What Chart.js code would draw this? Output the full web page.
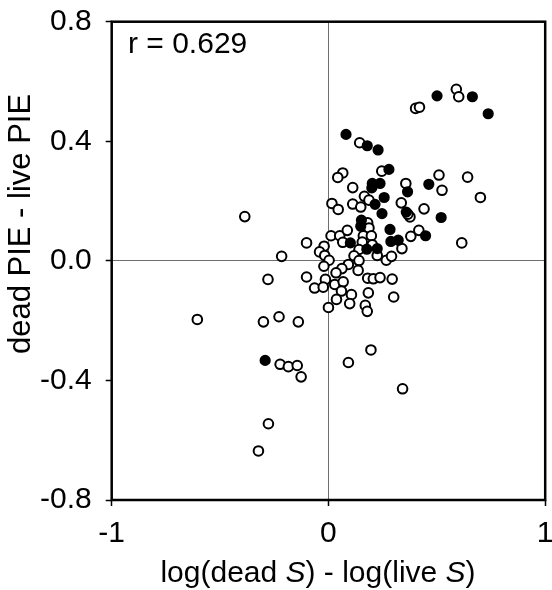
<!DOCTYPE html>
<html>
<head>
<meta charset="utf-8">
<script src="https://cdn.jsdelivr.net/npm/chart.js@4.4.1/dist/chart.umd.min.js"></script>
<style>
  html, body { margin: 0; padding: 0; background: #fff; }
  #wrap { width: 552px; height: 590px; }
</style>
</head>
<body>
<div id="wrap"><canvas id="chart" width="552" height="590"></canvas></div>
<script>
(function () {
    'use strict';

    // Filled circles.
    var filledX = [0.501, 0.664, 0.737, 0.081, 0.179, 0.229, 0.279, 0.238, 0.202, 0.200,
                   0.365, 0.463, 0.257, 0.215, 0.247, 0.359, 0.520, 0.152, 0.149, 0.284,
                   0.448, 0.288, 0.322, 0.101, 0.177, 0.225, -0.292];
    var filledY = [0.552, 0.549, 0.492, 0.423, 0.385, 0.371, 0.306, 0.259, 0.259, 0.244,
                   0.231, 0.256, 0.212, 0.189, 0.158, 0.163, 0.145, 0.136, 0.116, 0.105,
                   0.084, 0.065, 0.069, 0.060, 0.039, 0.041, -0.333];

    // Open circles.
    var openX = [0.590, 0.601, 0.402, 0.420, 0.144, 0.066, 0.043, 0.246, 0.357, 0.510,
                 0.524, 0.642, 0.701, -0.386, 0.112, 0.166, 0.016, 0.045, 0.112, 0.149,
                 0.336, 0.441, 0.376, 0.366, 0.012, 0.052, 0.087, 0.066, 0.181, 0.187,
                 0.161, 0.198, 0.156, 0.202, -0.101, -0.020, -0.041, -0.017, 0.003, -0.216,
                 0.141, 0.118, 0.141, 0.225, 0.267, 0.291, 0.339, 0.380, 0.417, 0.615,
                 0.092, 0.062, 0.035, -0.021, 0.137, -0.279, -0.101, -0.014, 0.029, 0.068,
                 -0.064, -0.024, 0.060, 0.181, 0.207, 0.238, 0.294, 0.184, 0.106, 0.037,
                 0.098, 0.301, 0.170, 0.179, 0.000, -0.605, -0.300, -0.228, -0.139, -0.223,
                 -0.185, -0.144, -0.126, 0.092, 0.196, 0.342, -0.277, -0.323, 0.187];
    var openY = [0.574, 0.549, 0.510, 0.514, 0.395, 0.294, 0.279, 0.300, 0.259, 0.287,
                 0.236, 0.280, 0.212, 0.148, 0.245, 0.216, 0.192, 0.172, 0.190, 0.180,
                 0.194, 0.174, 0.147, 0.156, 0.084, 0.084, 0.102, 0.062, 0.127, 0.110,
                 0.084, 0.084, 0.063, 0.054, 0.060, 0.049, 0.030, 0.018, 0.002, 0.015,
                 0.038, 0.017, 0.001, 0.018, 0.002, 0.015, 0.041, 0.082, 0.102, 0.060,
                 -0.012, -0.026, -0.040, -0.018, -0.032, -0.062, -0.054, -0.062, -0.079, -0.070,
                 -0.091, -0.088, -0.101, -0.058, -0.060, -0.056, -0.061, -0.107, -0.113, -0.129,
                 -0.143, -0.121, -0.149, -0.169, -0.156, -0.196, -0.204, -0.187, -0.204, -0.346,
                 -0.354, -0.350, -0.388, -0.340, -0.298, -0.428, -0.545, -0.636, 0.203];

    var xTicks = [-1, 0, 1];
    var yTicks = [-0.8, -0.4, 0.0, 0.4, 0.8];
    var corrLabel = 'r = 0.629';

    var FONT = "'Liberation Sans', Arial, sans-serif";

    function toPoints(xs, ys) {
        return xs.map(function (x, i) { return { x: x, y: ys[i] }; });
    }

    function zeroGrid(ctx) {
        return ctx.tick && ctx.tick.value === 0 ? '#6e6e6e' : 'rgba(0,0,0,0)';
    }

    // Frame, r label and axis titles.
    var decor = {
        id: 'decor',
        afterDatasetsDraw: function (chart) {
            var a = chart.chartArea;
            var c = chart.ctx;
            c.save();
            c.strokeStyle = '#000';
            c.lineWidth = 2.5;
            c.strokeRect(a.left, a.top, a.right - a.left, a.bottom - a.top);
            c.restore();
        },
        afterDraw: function (chart) {
            var c = chart.ctx;
            c.save();
            c.fillStyle = '#000';
            c.textBaseline = 'alphabetic';

            c.font = '30px ' + FONT;
            c.textAlign = 'left';
            c.fillText(corrLabel, 128, 53);

            // x title with italic S
            var parts = [
                ['log(dead ', false], ['S', true], [') - log(live ', false], ['S', true], [')', false]
            ];
            var total = 0;
            parts.forEach(function (p) {
                c.font = (p[1] ? 'italic ' : '') + '30px ' + FONT;
                total += c.measureText(p[0]).width;
            });
            var x = 318 - total / 2;
            parts.forEach(function (p) {
                c.font = (p[1] ? 'italic ' : '') + '30px ' + FONT;
                c.fillText(p[0], x, 582);
                x += c.measureText(p[0]).width;
            });

            // y title
            c.font = '31px ' + FONT;
            c.translate(21, 224);
            c.rotate(-Math.PI / 2);
            c.textAlign = 'center';
            c.textBaseline = 'middle';
            c.fillText('dead PIE - live PIE', 0, 0);
            c.restore();
        }
    };

    new Chart(document.getElementById('chart').getContext('2d'), {
        type: 'scatter',
        data: {
            datasets: [{
                label: 'filled',
                data: toPoints(filledX, filledY),
                pointRadius: 4.6,
                pointBorderWidth: 2,
                pointBackgroundColor: '#000',
                pointBorderColor: '#000'
            }, {
                label: 'open',
                data: toPoints(openX, openY),
                pointRadius: 4.8,
                pointBorderWidth: 2,
                pointBackgroundColor: '#fff',
                pointBorderColor: '#000'
            }]
        },
        options: {
            responsive: false,
            animation: false,
            events: [],
            layout: { padding: { top: 21.7, right: 5.3, left: 0, bottom: 0 } },
            plugins: {
                legend: { display: false },
                tooltip: { enabled: false }
            },
            scales: {
                x: {
                    type: 'linear',
                    min: xTicks[0],
                    max: xTicks[xTicks.length - 1],
                    afterBuildTicks: function (s) {
                        s.ticks = xTicks.map(function (v) { return { value: v }; });
                    },
                    afterFit: function (s) {
                        s.height = 90;
                        s.paddingLeft = 0;
                        s.paddingRight = 0;
                    },
                    border: { display: false },
                    grid: {
                        color: zeroGrid,
                        lineWidth: 1,
                        tickColor: '#000',
                        tickLength: 6,
                        tickWidth: 1.5
                    },
                    ticks: {
                        color: '#000',
                        font: { family: FONT, size: 30 },
                        padding: 10,
                        maxRotation: 0,
                        callback: function (v) { return String(v); }
                    }
                },
                y: {
                    type: 'linear',
                    min: yTicks[0],
                    max: yTicks[yTicks.length - 1],
                    afterBuildTicks: function (s) {
                        s.ticks = yTicks.map(function (v) { return { value: v }; });
                    },
                    afterFit: function (s) {
                        s.width = 111.7;
                        s.paddingTop = 0;
                        s.paddingBottom = 0;
                    },
                    border: { display: false },
                    grid: {
                        color: zeroGrid,
                        lineWidth: 1,
                        tickColor: '#000',
                        tickLength: 6,
                        tickWidth: 1.5
                    },
                    ticks: {
                        color: '#000',
                        font: { family: FONT, size: 30 },
                        padding: 14,
                        callback: function (v) { return Number(v).toFixed(1); }
                    }
                }
            }
        },
        plugins: [decor]
    });
}());
</script>
</body>
</html>
